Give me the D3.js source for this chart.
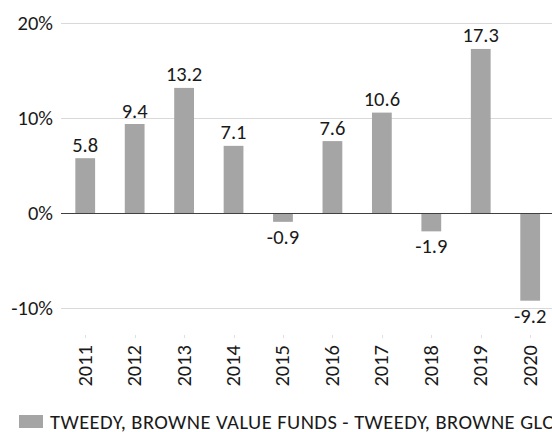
<!DOCTYPE html>
<html>
<head>
<meta charset="utf-8">
<script src="https://cdn.jsdelivr.net/npm/d3@7"></script>
<style>
  html, body { margin: 0; padding: 0; background: #fff; }
  svg { display: block; }
  text { font-family: Carlito, Lato, "Open Sans", sans-serif; fill: #1a1a1a; }
</style>
</head>
<body>
<svg id="chart" width="552" height="432"></svg>
<script>
const categories = ["2011","2012","2013","2014","2015","2016","2017","2018","2019","2020"];
const values = [5.8, 9.4, 13.2, 7.1, -0.9, 7.6, 10.6, -1.9, 17.3, -9.2];
const yTicks = [-10, 0, 10, 20];
const yTickLabels = ["-10%", "0%", "10%", "20%"];
const seriesName = "TWEEDY, BROWNE VALUE FUNDS - TWEEDY, BROWNE GLOBAL VALUE FUND";

const svg = d3.select("#chart");
const x = d3.scaleBand().domain(categories).range([60.5, 554.9]).paddingInner(0.6).paddingOuter(0.3);
const y = d3.scaleLinear().domain([-10, 20]).range([308.3, 23.3]);

// gridlines
svg.append("g").selectAll("line").data(yTicks.filter(t => t !== 0)).join("line")
  .attr("x1", 61).attr("x2", 552)
  .attr("y1", d => Math.round(y(d)) + 0.5).attr("y2", d => Math.round(y(d)) + 0.5)
  .attr("stroke", "#d9d9d9").attr("stroke-width", 1);

// y tick labels
svg.append("g").selectAll("text").data(yTicks).join("text")
  .attr("x", 53).attr("y", d => y(d)).attr("dy", "0.33em")
  .attr("text-anchor", "end").attr("font-size", 20.5)
  .text((d, i) => yTickLabels[i]);

// bars
svg.append("g").selectAll("rect").data(values).join("rect")
  .attr("x", (d, i) => x(categories[i]))
  .attr("width", x.bandwidth())
  .attr("y", d => y(Math.max(0, d)))
  .attr("height", d => Math.abs(y(d) - y(0)))
  .attr("fill", "#a5a5a5");

// zero line
svg.append("line")
  .attr("x1", 61).attr("x2", 552)
  .attr("y1", Math.round(y(0)) + 0.5).attr("y2", Math.round(y(0)) + 0.5)
  .attr("stroke", "#404040").attr("stroke-width", 1);

// data labels
svg.append("g").selectAll("text").data(values).join("text")
  .attr("x", (d, i) => x(categories[i]) + x.bandwidth() / 2)
  .attr("y", d => d >= 0 ? y(d) - 6.5 : y(d) + 22)
  .attr("text-anchor", "middle").attr("font-size", 20.5)
  .text(d => d.toFixed(1));

// x tick marks
svg.append("g").selectAll("line").data(categories).join("line")
  .attr("x1", d => Math.round(x(d) + x.bandwidth() / 2) + 0.5)
  .attr("x2", d => Math.round(x(d) + x.bandwidth() / 2) + 0.5)
  .attr("y1", 335).attr("y2", 338)
  .attr("stroke", "#e0e0e0");

// x labels rotated
svg.append("g").selectAll("text").data(categories).join("text")
  .attr("transform", d => `translate(${x(d) + x.bandwidth() / 2 + 6.5},345) rotate(-90)`)
  .attr("text-anchor", "end").attr("font-size", 20.5)
  .text(d => d);

// legend
svg.append("rect").attr("x", 19).attr("y", 415).attr("width", 24).attr("height", 13).attr("fill", "#a5a5a5");
svg.append("text").attr("x", 50).attr("y", 429).attr("font-size", 20.5)
  .attr("letter-spacing", 0.45).text(seriesName);
</script>
</body>
</html>
